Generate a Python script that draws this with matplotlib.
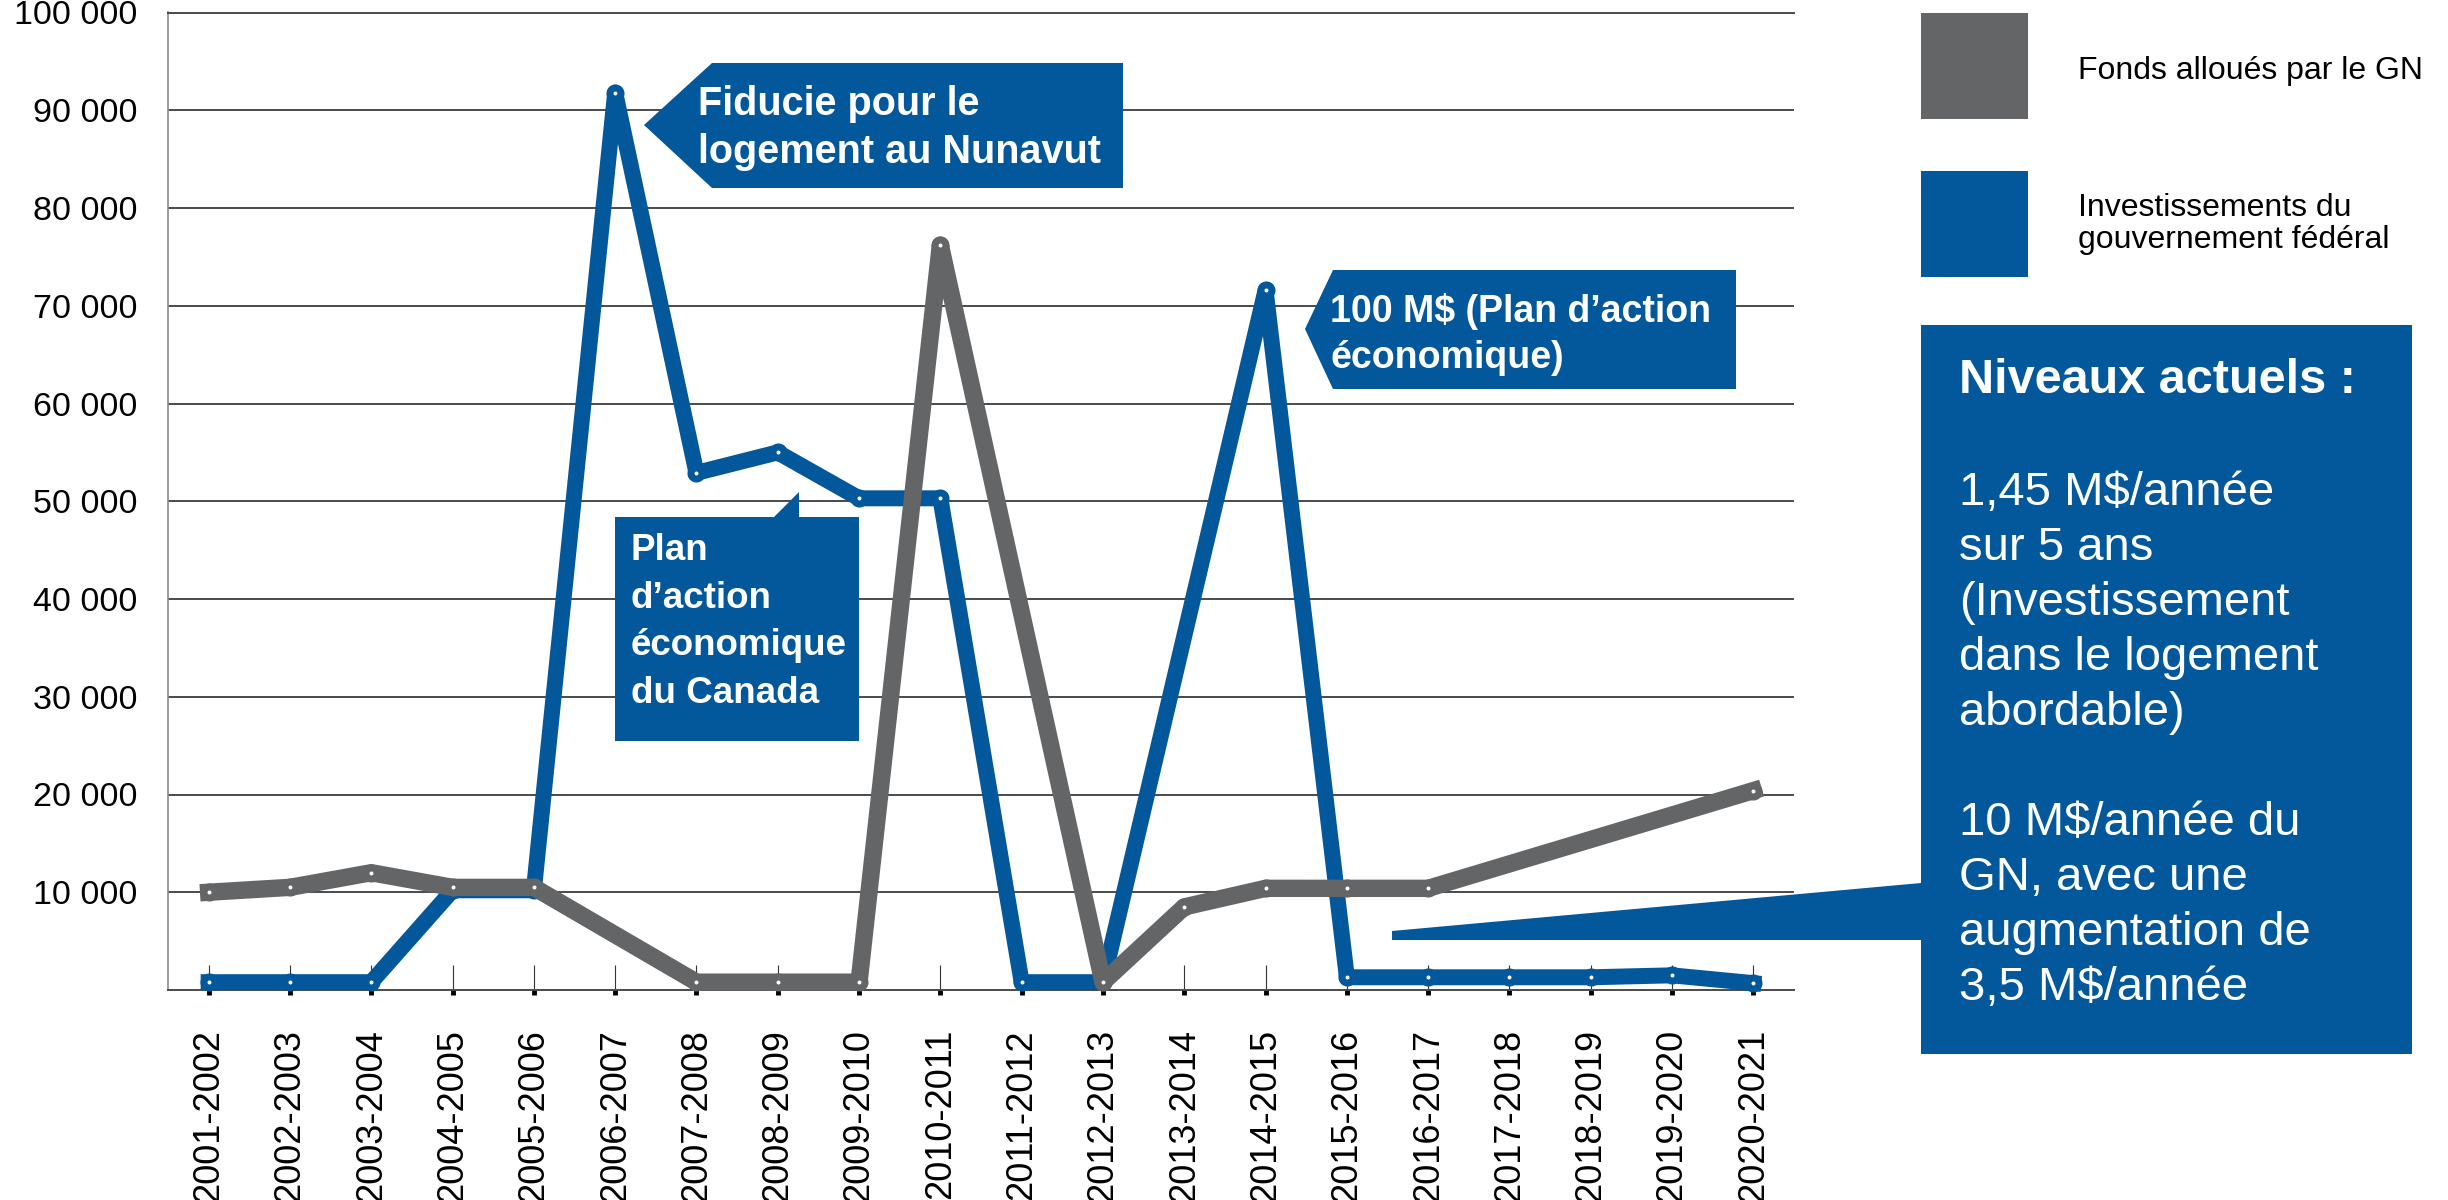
import numpy as np
import matplotlib.pyplot as plt
from matplotlib.patches import Polygon, Rectangle
from matplotlib.ticker import FuncFormatter

nan = np.nan

years = ["2001-2002", "2002-2003", "2003-2004", "2004-2005", "2005-2006",
         "2006-2007", "2007-2008", "2008-2009", "2009-2010", "2010-2011",
         "2011-2012", "2012-2013", "2013-2014", "2014-2015", "2015-2016",
         "2016-2017", "2017-2018", "2018-2019", "2019-2020", "2020-2021"]

# fonds alloués par le GN (gaps = no point in the source chart)
fonds_gn = [10000, 10500, 12000, 10500, 10500, nan, 800, 800, 800, 76200,
            nan, 800, 8500, 10400, 10400, 10400, nan, nan, nan, 20400]

# investissements du gouvernement fédéral
federal = [800, 800, 800, 10200, 10200, 91800, 52900, 55000, 50300, 50300,
           800, 800, nan, 71600, 1300, 1300, 1300, 1300, 1500, 700]

y_ticks = [10000, 20000, 30000, 40000, 50000, 60000, 70000, 80000, 90000, 100000]

legend_labels = ["Fonds alloués par le GN", "Investissements du\ngouvernement fédéral"]

BLUE = "#03579B"
GREY = "#646567"
W, H = 2448, 1200

plt.rcParams['font.family'] = ['Liberation Sans', 'DejaVu Sans']


def fxy(px, py):
    # pixel position (from top-left) -> figure fraction
    return px / W, 1 - py / H


def add_shape(fig, pts, color=BLUE):
    poly = Polygon([fxy(*p) for p in pts], closed=True, transform=fig.transFigure,
                   facecolor=color, edgecolor='none', zorder=2)
    fig.add_artist(poly)


def add_lines(fig, x, first_baseline, step, lines, size, bold=False, color='white'):
    for k, line in enumerate(lines):
        fig.text(*fxy(x, first_baseline + k * step), line, fontsize=size,
                 fontweight='bold' if bold else 'normal', color=color,
                 ha='left', va='baseline', zorder=3)


def main():
    fig = plt.figure(figsize=(W / 100, H / 100), dpi=100)
    ax = fig.add_axes([168 / W, 1 - 990 / H, (1794 - 168) / W, (990 - 12.5) / H])

    x = np.arange(len(years))
    for vals, col, lw in [(federal, BLUE, 11.5), (fonds_gn, GREY, 12.5)]:
        v = np.array(vals, dtype=float)
        ok = ~np.isnan(v)
        ax.plot(x[ok], v[ok], color=col, lw=lw, marker='o', ms=8, mew=5,
                mfc='white', mec=col, clip_on=False, zorder=3)

    ax.set_xlim(-0.5, len(years) - 0.5)
    ax.set_ylim(0, 100000)
    ax.set_yticks(y_ticks)
    ax.yaxis.set_major_formatter(FuncFormatter(lambda v, _: f"{int(v):,}".replace(",", " ")))
    ax.grid(axis='y', color='#4a4a4a', lw=1.4)
    ax.set_axisbelow(True)

    ax.set_xticks(x)
    ax.set_xticklabels(years, rotation=90)
    ax.set_xticks(x, minor=True)
    ax.xaxis.remove_overlapping_locs = False
    ax.tick_params(axis='x', which='major', direction='in', length=18, width=0.8,
                   color='#333333', pad=28, labelsize=26)
    ax.tick_params(axis='x', which='minor', direction='out', length=3.5, width=3.5,
                   color='black')
    ax.tick_params(axis='y', length=0, pad=22, labelsize=24.5)

    ax.spines['right'].set_visible(False)
    ax.spines['top'].set_color('#4a4a4a')
    ax.spines['top'].set_linewidth(1.4)
    ax.spines['left'].set_color('#8a8a8a')
    ax.spines['left'].set_linewidth(1.2)
    ax.spines['bottom'].set_color('#4a4a4a')
    ax.spines['bottom'].set_linewidth(1.4)

    # legend
    for (top, bottom), col in zip([(13, 119), (171, 277)], [GREY, BLUE]):
        (x0, y0), (x1, y1) = fxy(1921, bottom), fxy(2028, top)
        fig.add_artist(Rectangle((x0, y0), x1 - x0, y1 - y0, transform=fig.transFigure,
                                 facecolor=col, edgecolor='none'))
    add_lines(fig, 2078, 79, 32, legend_labels[0].split("\n"), 23, color='black')
    add_lines(fig, 2078, 216, 32, legend_labels[1].split("\n"), 23, color='black')

    # callout: Fiducie
    add_shape(fig, [(644, 125), (712, 63), (1123, 63), (1123, 188), (712, 188)])
    add_lines(fig, 698, 115, 48, ["Fiducie pour le", "logement au Nunavut"], 28.5, bold=True)

    # callout: Plan d'action économique du Canada
    add_shape(fig, [(615, 517), (774, 517), (799, 492), (799, 517), (859, 517),
                    (859, 741), (615, 741)])
    add_lines(fig, 631, 560, 47.7, ["Plan", "d’action", "économique", "du Canada"],
              26.5, bold=True)

    # callout: 100 M$
    add_shape(fig, [(1305, 329), (1333, 270), (1736, 270), (1736, 389), (1333, 389)])
    add_lines(fig, 1330, 322, 46, ["100 M$ (Plan d’action", "économique)"], 27, bold=True)

    # big box with its wedge
    add_shape(fig, [(1392, 931), (1921, 883), (1921, 940), (1392, 940)])
    add_shape(fig, [(1921, 325), (2412, 325), (2412, 1054), (1921, 1054)])
    add_lines(fig, 1959, 393, 55, ["Niveaux actuels :"], 35, bold=True)
    add_lines(fig, 1959, 505, 55, ["1,45 M$/année", "sur 5 ans", "(Investissement",
                                   "dans le logement", "abordable)", "",
                                   "10 M$/année du", "GN, avec une",
                                   "augmentation de", "3,5 M$/année"], 34)

    fig.savefig("out.png", dpi=100)


if __name__ == "__main__":
    main()
